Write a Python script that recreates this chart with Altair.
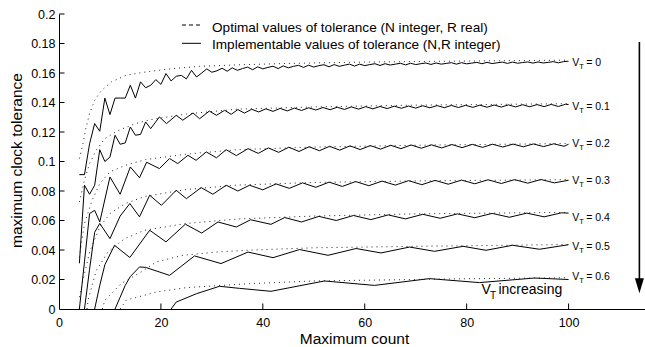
import altair as alt
import pandas as pd

FONT = "Liberation Sans"

# ---------------- data ----------------
vt_names = ["0", "0.1", "0.2", "0.3", "0.4", "0.5", "0.6"]

# implementable tolerance (N, R integer) -- solid lines
vt0_n = list(range(4, 101))
vt0_tol = [0.0911, 0.0911, 0.112, 0.1257, 0.1205, 0.143, 0.1318, 0.143, 0.143, 0.143,
           0.1517, 0.143, 0.154, 0.150, 0.1517, 0.1555, 0.1523, 0.1596, 0.1546, 0.1578,
           0.1584, 0.156, 0.1618, 0.1573, 0.1600, 0.1628, 0.1605, 0.1615, 0.1632, 0.1612,
           0.1635, 0.1618, 0.1630, 0.1640, 0.1622, 0.1642, 0.1628, 0.1638, 0.1646, 0.1630,
           0.1648, 0.1635, 0.1645, 0.1652, 0.1638, 0.1653, 0.1640, 0.1650, 0.1656, 0.1642,
           0.1657, 0.1645, 0.1653, 0.1660, 0.1647, 0.1660, 0.1650, 0.1657, 0.1663, 0.1651,
           0.1663, 0.1654, 0.1660, 0.1666, 0.1655, 0.1666, 0.1657, 0.1663, 0.1668, 0.1658,
           0.1668, 0.1660, 0.1665, 0.1670, 0.1660, 0.1670, 0.1662, 0.1667, 0.1672, 0.1663,
           0.1672, 0.1664, 0.1669, 0.1674, 0.1665, 0.1674, 0.1666, 0.1671, 0.1675, 0.1667,
           0.1675, 0.1668, 0.1672, 0.1677, 0.1669, 0.1677, 0.1680]

vt1_n = [4, 5, 6, 7, 8, 9, 10, 11, 12, 13, 14, 15, 16, 17, 18, 19.7, 21.1, 23, 24.3, 26.3,
         27.6, 29.5, 30.9, 32.5, 33.8, 35.1, 36.4, 37.8, 39.2, 40.6, 42, 43.4, 44.8, 46.2,
         47.6, 49, 50.4, 51.8, 53.2, 54.6, 56, 57.4, 58.8, 60.2, 61.6, 63, 64.4, 65.8, 67.2,
         68.6, 70, 71.4, 72.8, 74.2, 75.6, 77, 78.4, 79.8, 81.2, 82.6, 84, 85.4, 86.8, 88.2,
         89.6, 91, 92.4, 93.8, 95.2, 96.6, 98, 99.4, 100]
vt1_tol = [0.031, 0.0839, 0.0778, 0.0839, 0.108, 0.100, 0.103, 0.1178, 0.1117, 0.1126,
           0.1234, 0.1178, 0.1184, 0.1268, 0.1223, 0.1302, 0.1257, 0.1313, 0.128, 0.1329,
           0.129, 0.1342, 0.1313, 0.1347, 0.132, 0.1352, 0.1328, 0.1354, 0.1336, 0.1357,
           0.1340, 0.1360, 0.1343, 0.1362, 0.1346, 0.1364, 0.1349, 0.1366, 0.1351, 0.1368,
           0.1353, 0.1370, 0.1355, 0.1372, 0.1357, 0.1373, 0.1359, 0.1375, 0.1361, 0.1376,
           0.1362, 0.1378, 0.1364, 0.1379, 0.1365, 0.1380, 0.1366, 0.1381, 0.1367, 0.1382,
           0.1368, 0.1383, 0.1369, 0.1384, 0.1370, 0.1385, 0.1371, 0.1386, 0.1372, 0.1387,
           0.1373, 0.1388, 0.1386]

vt2_n = [4, 5, 6, 7, 8, 10, 12, 14, 15.8, 17.2, 19.7, 21.7, 23.3, 25.3, 26.9, 28.9, 30.9,
         32.8, 34.8, 37.1, 39.1, 41.1, 43.1, 45.1, 47.1, 49.1, 51.1, 53.1, 55.1, 57.1, 59.1,
         61.1, 63.1, 65.1, 67.1, 69.1, 71.1, 73.1, 75.1, 77.1, 79.1, 81.1, 83.1, 85.1, 87.1,
         89.1, 91.1, 93.1, 95.1, 97.1, 99.1, 100]
vt2_tol = [0.0, 0.032, 0.0647, 0.0669, 0.059, 0.0895, 0.0778, 0.0963, 0.089, 0.0995,
           0.0952, 0.102, 0.0986, 0.1042, 0.1008, 0.1065, 0.1025, 0.108, 0.1040, 0.1087,
           0.1055, 0.1092, 0.1062, 0.1097, 0.1068, 0.1100, 0.1073, 0.1103, 0.1077, 0.1106,
           0.1081, 0.1108, 0.1084, 0.1110, 0.1087, 0.1112, 0.1090, 0.1113, 0.1092, 0.1115,
           0.1094, 0.1116, 0.1096, 0.1117, 0.1098, 0.1118, 0.1100, 0.1119, 0.1101, 0.1120,
           0.1103, 0.1117]

vt3_n = [5, 6, 7, 8, 10, 12, 13.9, 15.8, 17.8, 20.1, 23, 25, 27.9, 30.2, 32.8, 35.1, 37.4,
         40, 42.6, 45.2, 47.8, 50.4, 53, 55.6, 58.2, 60.8, 63.4, 66, 68.6, 71.2, 73.8, 76.4,
         79, 81.6, 84.2, 86.8, 89.4, 92, 94.6, 97.2, 100]
vt3_tol = [0.0, 0.027, 0.052, 0.058, 0.0477, 0.063, 0.0715, 0.0625, 0.0771, 0.0703, 0.0805,
           0.0748, 0.0823, 0.0778, 0.0839, 0.080, 0.0839, 0.0808, 0.0848, 0.0818, 0.0855,
           0.0825, 0.0860, 0.0831, 0.0864, 0.0836, 0.0867, 0.0840, 0.0870, 0.0843, 0.0872,
           0.0846, 0.0874, 0.0849, 0.0876, 0.0851, 0.0877, 0.0853, 0.0878, 0.0855, 0.0873]

vt4_n = [7, 8, 9, 10.9, 13.9, 17.8, 21, 24.8, 28, 31.2, 34.8, 37.6, 41.6, 44.3, 47.6, 51,
         54.4, 57.8, 61.2, 64.6, 68, 71.4, 74.8, 78.2, 81.6, 85, 88.4, 91.8, 95.2, 98.6, 100]
vt4_tol = [0.0, 0.016, 0.030, 0.0432, 0.0349, 0.0534, 0.0455, 0.0575, 0.0515, 0.059,
           0.0556, 0.0605, 0.0574, 0.0620, 0.0590, 0.0628, 0.0600, 0.0634, 0.0606, 0.0638,
           0.0611, 0.0642, 0.0615, 0.0645, 0.0619, 0.0648, 0.0622, 0.0650, 0.0625, 0.0652,
           0.0650]

vt5_n = [11, 12, 13, 14, 15.8, 17, 21.7, 26.6, 31.8, 37.1, 42, 47.2, 52.8, 58.3, 63.2,
         68.8, 73.7, 79.3, 83.8, 89, 94.3, 100]
vt5_tol = [0.0, 0.008, 0.016, 0.022, 0.0285, 0.0282, 0.0228, 0.036, 0.0308, 0.0386, 0.0348,
           0.0403, 0.0364, 0.041, 0.038, 0.042, 0.0391, 0.0425, 0.0398, 0.0432, 0.0405, 0.0436]

vt6_n = [22, 23, 27, 31.5, 35.4, 41.6, 52.1, 61.9, 72.7, 82.5, 93.3, 100]
vt6_tol = [0.0, 0.0047, 0.0104, 0.0154, 0.0140, 0.012, 0.019, 0.016, 0.0206, 0.0179, 0.021, 0.020]

# optimal tolerance (N integer, R real) -- dotted lines
opt0_n = [4, 4.7, 5.3, 6, 7, 8.3, 10.3, 13.2, 17, 22.4, 27.6, 35, 45, 60, 80, 100]
opt0_tol = [0.102, 0.112, 0.123, 0.1325, 0.1415, 0.148, 0.154, 0.1585, 0.1607, 0.163,
            0.1645, 0.1655, 0.1665, 0.1674, 0.1681, 0.1687]
opt1_n = [4, 5, 6, 7.3, 9, 11.6, 15, 18, 25, 35, 50, 70, 100]
opt1_tol = [0.0725, 0.0873, 0.0986, 0.1076, 0.1155, 0.121, 0.1257, 0.1284, 0.1322, 0.1355,
            0.1370, 0.1382, 0.1392]
opt2_n = [4, 5, 6.5, 8, 10, 13, 17, 25, 35, 50, 70, 100]
opt2_tol = [0.035, 0.058, 0.0737, 0.085, 0.093, 0.0974, 0.1013, 0.105, 0.108, 0.1098,
            0.111, 0.1122]
opt3_n = [4, 4.4, 6, 8, 10, 13, 17, 25, 35, 50, 70, 100]
opt3_tol = [0.008, 0.015, 0.0386, 0.0556, 0.0647, 0.0715, 0.0764, 0.081, 0.084, 0.0858,
            0.0868, 0.0877]
opt4_n = [5.5, 5.7, 7.3, 9.6, 12.9, 16.8, 25, 35, 50, 70, 100]
opt4_tol = [0.0, 0.006, 0.026, 0.0386, 0.0477, 0.0534, 0.058, 0.061, 0.063, 0.0645, 0.0655]
opt5_n = [8.5, 9, 12.2, 16.1, 19.1, 24.3, 30.9, 36.7, 50, 70, 100]
opt5_tol = [0.0, 0.006, 0.0172, 0.0251, 0.0319, 0.0364, 0.0386, 0.0398, 0.0415, 0.0425, 0.0437]
opt6_n = [12, 13.2, 19.1, 25, 37.4, 50, 60, 80, 100]
opt6_tol = [0.0, 0.006, 0.0115, 0.0145, 0.0172, 0.019, 0.0195, 0.0205, 0.0212]

# curve label heights (value at the right end of each curve)
label_tol = [0.1666, 0.1368, 0.1117, 0.0866, 0.0615, 0.0418, 0.0215]

x_ticks = [0, 20, 40, 60, 80, 100]
y_ticks = [0, 0.02, 0.04, 0.06, 0.08, 0.1, 0.12, 0.14, 0.16, 0.18, 0.2]

legend_texts = ["Optimal values of tolerance (N integer, R real)",
                "Implementable values of tolerance (N,R integer)"]

# ---------------- tables ----------------
impl = [(vt0_n, vt0_tol), (vt1_n, vt1_tol), (vt2_n, vt2_tol), (vt3_n, vt3_tol),
        (vt4_n, vt4_tol), (vt5_n, vt5_tol), (vt6_n, vt6_tol)]
opt = [(opt0_n, opt0_tol), (opt1_n, opt1_tol), (opt2_n, opt2_tol), (opt3_n, opt3_tol),
       (opt4_n, opt4_tol), (opt5_n, opt5_tol), (opt6_n, opt6_tol)]


def long_table(pairs):
    rows = []
    for name, (ns, ts) in zip(vt_names, pairs):
        for n, t in zip(ns, ts):
            rows.append({"N": n, "tol": t, "vt": name})
    return pd.DataFrame(rows)


impl_df = long_table(impl)
opt_df = long_table(opt)

label_df = pd.DataFrame({"vt": vt_names, "tol": label_tol, "N": [100.7] * 7,
                         "eq": ["= " + v for v in vt_names]})

W, H = 586, 295
xs = alt.Scale(domain=[0, 115], nice=False, zero=False)
ys = alt.Scale(domain=[0, 0.2], nice=False)

x_axis = alt.Axis(values=x_ticks, title="Maximum count",
                  labelFont=FONT, labelFontSize=12.5, labelColor="black",
                  labelPadding=7, ticks=False, grid=False,
                  domainColor="black", domainWidth=1,
                  labelFlush=False, labelOverlap=False,
                  titleFont=FONT, titleFontSize=15.5, titleFontWeight="normal",
                  titleColor="black", titleX=295, titleY=34.6,
                  titleAlign="center", titleBaseline="alphabetic")
y_axis = alt.Axis(values=y_ticks, format="~g", title="maximum clock tolerance",
                  labelFont=FONT, labelFontSize=12.5, labelColor="black",
                  labelPadding=4, ticks=False, grid=False,
                  domainColor="black", domainWidth=1,
                  labelFlush=False, labelOverlap=False,
                  titleFont=FONT, titleFontSize=15.5, titleFontWeight="normal",
                  titleColor="black", titleAngle=270, titleX=-37.6, titleY=146,
                  titleAlign="center", titleBaseline="alphabetic")


# every layer carries the same axis definition so the shared axes merge cleanly
def X(f):
    return alt.X(f, type="quantitative", scale=xs, axis=x_axis)


def Y(f):
    return alt.Y(f, type="quantitative", scale=ys, axis=y_axis)


solid = alt.Chart(impl_df).mark_line(color="black", strokeWidth=1).encode(
    x=X("N"), y=Y("tol"), detail="vt:N", order="N:Q")

dotted = alt.Chart(opt_df).mark_line(color="#222222", strokeWidth=1, strokeDash=[1, 4]).encode(
    x=X("N"), y=Y("tol"), detail="vt:N", order="N:Q")

# inward ticks
xt = alt.Chart(pd.DataFrame({"N": x_ticks[1:]})).mark_rule(color="black", strokeWidth=1).encode(
    x=X("N"), y=alt.value(H), y2=alt.value(H - 5.5))
yt = alt.Chart(pd.DataFrame({"tol": y_ticks[1:]})).mark_rule(color="black", strokeWidth=1).encode(
    y=Y("tol"), x=alt.value(0), x2=alt.value(5.5))

# curve labels  V_T = ...
lab_v = alt.Chart(label_df).mark_text(align="left", baseline="middle", font=FONT,
                                      fontSize=10.5, color="black").encode(
    x=X("N"), y=Y("tol"), text=alt.value("V"))
lab_t = alt.Chart(label_df).mark_text(align="left", baseline="middle", font=FONT,
                                      fontSize=7.5, color="black", dx=7, dy=4).encode(
    x=X("N"), y=Y("tol"), text=alt.value("T"))
lab_eq = alt.Chart(label_df).mark_text(align="left", baseline="middle", font=FONT,
                                       fontSize=10.5, color="black", dx=14).encode(
    x=X("N"), y=Y("tol"), text="eq:N")

# "V_T increasing" annotation and arrow
ann_df = pd.DataFrame({"N": [82.9], "tol": [0.0102]})
inc_v = alt.Chart(ann_df).mark_text(align="left", baseline="alphabetic", font=FONT,
                                    fontSize=14, color="black").encode(
    x=X("N"), y=Y("tol"), text=alt.value("V"))
inc_t = alt.Chart(ann_df).mark_text(align="left", baseline="alphabetic", font=FONT,
                                    fontSize=10, color="black", dx=8.5, dy=5).encode(
    x=X("N"), y=Y("tol"), text=alt.value("T"))
inc_txt = alt.Chart(ann_df).mark_text(align="left", baseline="alphabetic", font=FONT,
                                      fontSize=14, color="black", dx=17).encode(
    x=X("N"), y=Y("tol"), text=alt.value("increasing"))

arrow_df = pd.DataFrame({"N": [113.9], "tol": [0.181], "bot": [0.014], "head": [0.0157]})
arrow_line = alt.Chart(arrow_df).mark_rule(color="black", strokeWidth=1.6).encode(
    x=X("N"), y=Y("tol"), y2=alt.Y2("bot"))
arrow_head = alt.Chart(arrow_df).mark_point(
    shape="M-0.6,-1L0.6,-1L0,1Z", filled=True, color="black", opacity=1, size=225).encode(
    x=X("N"), y=Y("head"))

# legend (drawn by hand, top of plot)
one = pd.DataFrame({"k": [0]})
leg_dash = alt.Chart(one).mark_rule(color="black", strokeWidth=1, strokeDash=[4, 3]).encode(
    x=alt.value(123), x2=alt.value(142), y=alt.value(11))
leg_solid = alt.Chart(one).mark_rule(color="black", strokeWidth=1).encode(
    x=alt.value(123), x2=alt.value(142), y=alt.value(29.3))
leg_txt1 = alt.Chart(one).mark_text(align="left", baseline="alphabetic", font=FONT,
                                    fontSize=13.6, color="black").encode(
    x=alt.value(153), y=alt.value(17.5), text=alt.value(legend_texts[0]))
leg_txt2 = alt.Chart(one).mark_text(align="left", baseline="alphabetic", font=FONT,
                                    fontSize=13.6, color="black").encode(
    x=alt.value(153), y=alt.value(35), text=alt.value(legend_texts[1]))

chart = alt.layer(
    solid, dotted, xt, yt, lab_v, lab_t, lab_eq, inc_v, inc_t, inc_txt,
    arrow_line, arrow_head, leg_dash, leg_solid, leg_txt1, leg_txt2
).properties(
    width=W, height=H,
    autosize=alt.AutoSizeParams(type="none"),
    padding={"left": 59, "top": 14, "right": 0, "bottom": 38},
    background="white",
).configure_view(strokeWidth=0)

chart.save("out.html", embed_options={"renderer": "svg", "actions": False})
